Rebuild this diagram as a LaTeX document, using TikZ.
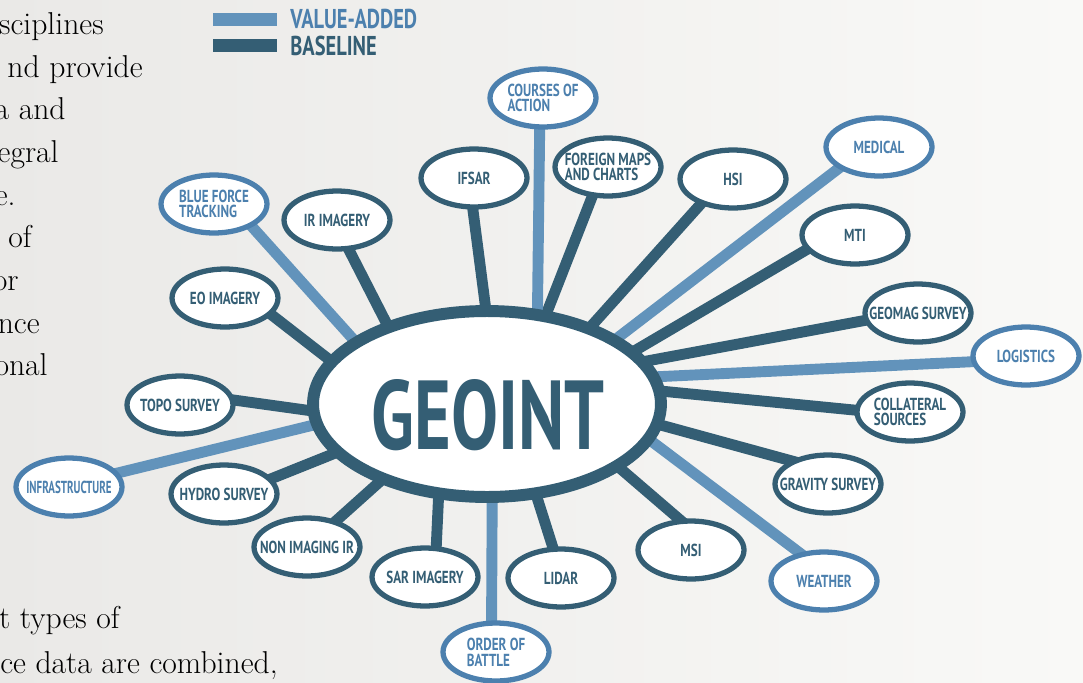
\documentclass[tikz,border=0pt]{standalone}
\usepackage{fontspec}
\usetikzlibrary{shapes.geometric}
\newfontfamily\geofont[FakeStretch=0.75]{PT Sans}
\definecolor{GeoDark}{RGB}{52,94,116}
\definecolor{GeoLight}{RGB}{98,147,187}
\definecolor{GeoLightLine}{RGB}{76,128,174}
\definecolor{PaperLeft}{RGB}{234,233,231}
\definecolor{PaperRight}{RGB}{249,249,247}
\pgfdeclarelayer{paper}
\pgfdeclarelayer{spokes}
\pgfsetlayers{paper,spokes,main}

\begin{document}
\begin{tikzpicture}[x=0.02cm, y=-0.02cm,
    bubble/.style={ellipse, fill=white, line width=3pt, minimum width=2.12cm, minimum height=1.16cm,
      inner xsep=-0.4cm, inner ysep=0pt, align=left, font=\geofont\bfseries\fontsize{9.9}{9}\selectfont},
    basenode/.style={bubble, draw=GeoDark, text=GeoDark},
    addnode/.style={bubble, draw=GeoLightLine, text=GeoLightLine},
    spoke/.style={line width=6.2pt, shorten <=-6pt, shorten >=-6pt},
    basespoke/.style={spoke, draw=GeoDark},
    addspoke/.style={spoke, draw=GeoLight},
    bodytext/.style={anchor=base east, inner sep=0pt, font=\fontsize{18}{21}\selectfont},
    legendtext/.style={anchor=west, inner sep=0pt, font=\geofont\bfseries\fontsize{15.5}{16}\selectfont}]
  \useasboundingbox (0,0) rectangle (1083,683);
  \begin{pgfonlayer}{paper}
    \shade[left color=PaperLeft, right color=PaperRight] (0,0) rectangle (1083,683);
  \end{pgfonlayer}

  % page text cut at the left edge
  \node[bodytext] (t1) at (104,34) {sciplines};
  \node[bodytext] (t2) at (143,77) {nd provide};
  \node[bodytext] (t3) at (66,119) {a and};
  \node[bodytext] (t4) at (59,162) {egral};
  \node[bodytext] (t5) at (16,205) {e.};
  \node[bodytext] (t6) at (32,247) {of};
  \node[bodytext] (t7) at (19,290) {or};
  \node[bodytext] (t8) at (40,333) {nce};
  \node[bodytext] (t9) at (48,375) {onal};
  \node[bodytext] (t10) at (120,628) {t types of};
  \node[bodytext] (t11) at (278,673) {ce data are combined,};

  % legend
  \fill[GeoLight] (213,13) rectangle (277,26);
  \fill[GeoDark] (213,39) rectangle (277,52);
  \node[legendtext, text=GeoLightLine] (legadd) at (290,18.5) {VALUE-ADDED};
  \node[legendtext, text=GeoDark] (legbase) at (290,46) {BASELINE};

  % hub
  \node[ellipse, draw=GeoDark, fill=white, line width=6.8pt, minimum width=6.96cm, minimum height=3.72cm, inner sep=0pt] (geo) at (487,404) {};
  \node[inner sep=0pt, text=GeoDark] (geolbl) at (488,415) {\resizebox{4.66cm}{1.4cm}{\geofont\bfseries GEOINT}};

  % sources
  \node[addnode] (bft) at (214,204) {BLUE FORCE\\TRACKING};
  \node[basenode] (ir) at (337,220) {IR IMAGERY};
  \node[basenode] (eo) at (225,298) {EO IMAGERY};
  \node[basenode] (topo) at (180,405) {TOPO SURVEY};
  \node[addnode] (infra) at (69,487) {\scalebox{0.84}[1]{INFRASTRUCTURE}};
  \node[basenode] (hydro) at (224,494) {HYDRO SURVEY};
  \node[basenode] (nonir) at (307,547) {NON IMAGING IR};
  \node[basenode] (sar) at (425,577) {SAR IMAGERY};
  \node[addnode] (oob) at (496,652) {ORDER OF\\BATTLE};
  \node[basenode] (lidar) at (561,578) {LIDAR};
  \node[basenode] (msi) at (691,550) {MSI};
  \node[addnode] (weather) at (824,581) {WEATHER};
  \node[basenode] (gravity) at (828,484) {GRAVITY SURVEY};
  \node[basenode] (collat) at (910,412) {COLLATERAL\\SOURCES};
  \node[addnode] (logist) at (1026,356) {LOGISTICS};
  \node[basenode] (geomag) at (918,313) {GEOMAG SURVEY};
  \node[basenode] (mti) at (855,235) {MTI};
  \node[addnode] (medical) at (879,147) {MEDICAL};
  \node[basenode] (hsi) at (733,179) {HSI};
  \node[basenode] (foreign) at (608,167) {FOREIGN MAPS\\AND CHARTS};
  \node[addnode] (coa) at (543,98) {COURSES OF\\ACTION};
  \node[basenode] (ifsar) at (474,178) {IFSAR};

  % spokes behind the bubbles
  \begin{pgfonlayer}{spokes}
    \draw[addspoke] (geo.154) -- (bft.329);
    \draw[basespoke] (geo.141) -- (ir.292);
    \draw[basespoke] (geo.164) -- (eo.340);
    \draw[basespoke] (geo.182) -- (topo.5);
    \draw[addspoke] (geo.187) -- (infra.16);
    \draw[basespoke] (geo.198) -- (hydro.18);
    \draw[basespoke] (geo.216) -- (nonir.42);
    \draw[basespoke] (geo.243) -- (sar.70);
    \draw[addspoke] (geo.273) -- (oob.98);
    \draw[basespoke] (geo.298) -- (lidar.105);
    \draw[basespoke] (geo.334) -- (msi.111);
    \draw[addspoke] (geo.347) -- (weather.131);
    \draw[basespoke] (geo.353) -- (gravity.148);
    \draw[basespoke] (geo.4) -- (collat.178);
    \draw[addspoke] (geo.9) -- (logist.186);
    \draw[basespoke] (geo.15) -- (geomag.188);
    \draw[basespoke] (geo.20) -- (mti.197);
    \draw[addspoke] (geo.27) -- (medical.208);
    \draw[basespoke] (geo.37) -- (hsi.218);
    \draw[basespoke] (geo.57) -- (foreign.242);
    \draw[addspoke] (geo.62) -- (coa.264);
    \draw[basespoke] (geo.91) -- (ifsar.268);
  \end{pgfonlayer}
\end{tikzpicture}
\end{document}
